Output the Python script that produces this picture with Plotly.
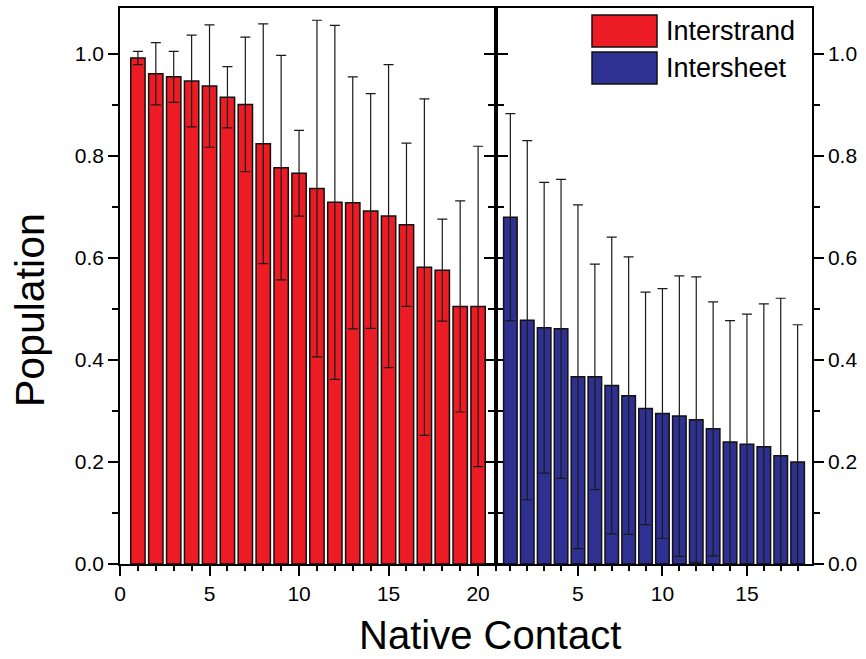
import plotly.graph_objects as go

# ---- data ----
interstrand_x = list(range(1, 21))
interstrand_y = [0.992, 0.961, 0.955, 0.947, 0.937, 0.915, 0.901, 0.824, 0.777, 0.766,
                 0.736, 0.709, 0.708, 0.692, 0.682, 0.665, 0.582, 0.576, 0.505, 0.505]
interstrand_err = [0.013, 0.061, 0.050, 0.090, 0.120, 0.060, 0.132, 0.235, 0.220, 0.084,
                   0.330, 0.347, 0.247, 0.230, 0.297, 0.160, 0.330, 0.100, 0.207, 0.314]

intersheet_x = list(range(1, 19))
intersheet_y = [0.680, 0.478, 0.463, 0.461, 0.367, 0.367, 0.350, 0.330, 0.305, 0.295,
                0.290, 0.283, 0.265, 0.239, 0.235, 0.230, 0.212, 0.200]
intersheet_err = [0.203, 0.352, 0.285, 0.293, 0.337, 0.221, 0.291, 0.272, 0.228, 0.245,
                  0.275, 0.280, 0.249, 0.238, 0.255, 0.280, 0.309, 0.269]

series_names = ["Interstrand", "Intersheet"]
series_colors = ["#ED1C24", "#2E3192"]
y_ticks = [0.0, 0.2, 0.4, 0.6, 0.8, 1.0]

FONT = "Liberation Sans, Arial, sans-serif"

fig = go.Figure()

def err(arr):
    return dict(type="data", array=arr, visible=True, color="#1a1a1a",
                thickness=1.2, width=5)

fig.add_trace(go.Bar(x=interstrand_x, y=interstrand_y, name=series_names[0],
                     marker=dict(color=series_colors[0], line=dict(color="#111111", width=1.5)),
                     width=0.8, error_y=err(interstrand_err), xaxis="x", yaxis="y",
                     showlegend=False))
fig.add_trace(go.Bar(x=intersheet_x, y=intersheet_y, name=series_names[1],
                     marker=dict(color=series_colors[1], line=dict(color="#111111", width=1.5)),
                     width=0.8, error_y=err(intersheet_err), xaxis="x2", yaxis="y2",
                     showlegend=False))

L, R, T, B = 120, 54, 8, 95
W, H = 866, 659
PW = W - L - R
PH = H - T - B
split = (496 - L) / PW

tickfont = dict(family=FONT, size=21, color="black")
common_y = dict(range=[0, 1.09], tickvals=y_ticks, ticktext=[f"{v:.1f}" for v in y_ticks],
                ticks="outside", ticklen=10, tickwidth=1.5, tickcolor="black",
                showline=True, linecolor="black", linewidth=1.5, mirror="allticks",
                showgrid=False, zeroline=False, tickfont=tickfont,
                minor=dict(dtick=0.1, tick0=0, ticks="outside", ticklen=6,
                           tickwidth=1.5, tickcolor="black", showgrid=False))
common_x = dict(ticks="outside", ticklen=10, tickwidth=1.5, tickcolor="black",
                showline=True, linecolor="black", linewidth=1.5, mirror=True,
                showgrid=False, zeroline=False, tickfont=tickfont, dtick=5, tick0=0,
                minor=dict(dtick=1, tick0=0, ticks="outside", ticklen=5,
                           tickwidth=1.5, tickcolor="black", showgrid=False))

fig.update_layout(
    width=W, height=H,
    margin=dict(l=L, r=R, t=T, b=B, autoexpand=False),
    paper_bgcolor="white", plot_bgcolor="white",
    font=dict(family=FONT, color="black"),
    bargap=0.2,
    xaxis=dict(domain=[0, split], range=[0, 21], anchor="y", **common_x),
    xaxis2=dict(domain=[split, 1], range=[0.15, 18.85], anchor="y2", **common_x),
    yaxis=dict(anchor="x", side="left", **common_y),
    yaxis2=dict(anchor="x2", side="right", **common_y),
)

def px_x(p):
    return (p - L) / PW

def px_y(p):
    return (H - B - p) / PH

# custom legend with large swatches
legend_rows = [(15, 47), (52, 84)]
for (top, bot), name, col in zip(legend_rows, series_names, series_colors):
    fig.add_shape(type="rect", xref="paper", yref="paper",
                  x0=px_x(592), x1=px_x(657), y0=px_y(bot), y1=px_y(top),
                  fillcolor=col, line=dict(color="#111111", width=1.5))
    fig.add_annotation(text=name, xref="paper", yref="paper",
                       x=px_x(664), y=px_y((top + bot) / 2), xanchor="left", yanchor="middle",
                       showarrow=False, font=dict(family=FONT, size=27, color="black"))

# axis titles
fig.add_annotation(text="Native Contact", xref="paper", yref="paper",
                   x=px_x(490), y=px_y(658), xanchor="center", yanchor="bottom",
                   borderpad=0, showarrow=False,
                   font=dict(family=FONT, size=40, color="black"))
fig.add_annotation(text="Population", xref="paper", yref="paper",
                   x=px_x(30), y=px_y(310), xanchor="center", yanchor="middle",
                   textangle=-90, showarrow=False,
                   font=dict(family=FONT, size=41, color="black"))

fig.write_html("out.html", config={"displayModeBar": False},
               post_script="document.body.style.margin='0';document.body.style.overflow='hidden';")
